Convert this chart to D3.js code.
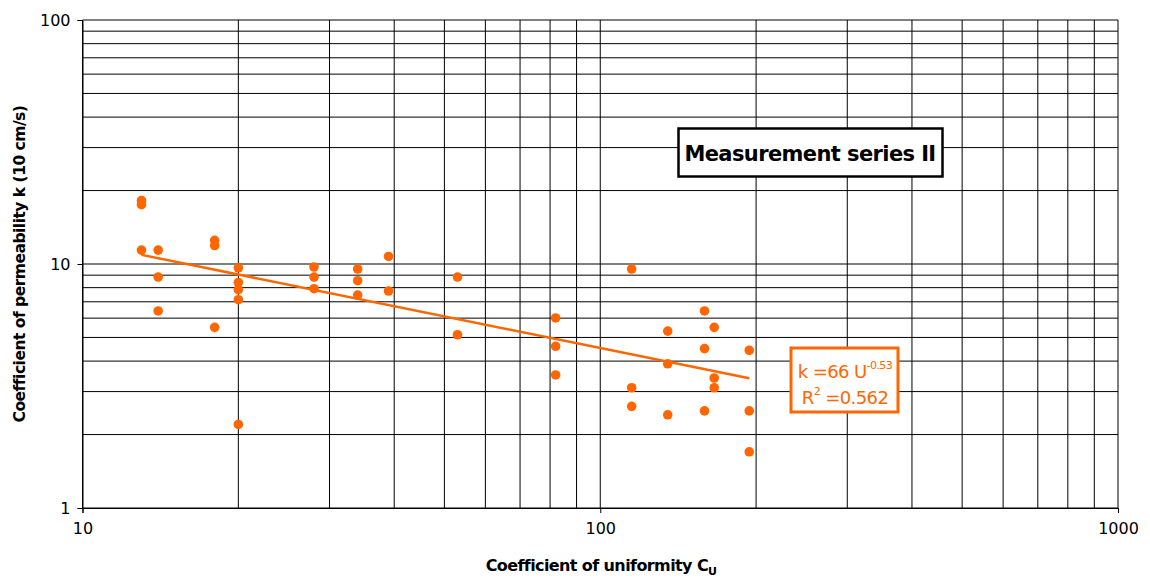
<!DOCTYPE html>
<html>
<head>
<meta charset="utf-8">
<script src="https://cdn.jsdelivr.net/npm/d3@7"></script>
<style>
  body { margin: 0; background: #fff; }
  text { font-family: "DejaVu Sans", sans-serif; }
</style>
</head>
<body>
<svg id="chart" width="1150" height="581"></svg>
<script>
// --- Data ------------------------------------------------
var cu = [13, 13, 13, 14, 14, 14, 18, 18, 18, 20, 20, 20, 20, 20,
          28, 28, 28, 34, 34, 34, 39, 39, 53, 53, 82, 82, 82,
          115, 115, 115, 135, 135, 135, 159, 159, 159, 166, 166, 166,
          194, 194, 194];
var k = [18.2, 17.5, 11.4, 11.4, 8.84, 6.42, 12.5, 11.9, 5.5, 9.65, 8.4, 7.85, 7.14, 2.2,
         9.72, 8.84, 7.92, 9.54, 8.54, 7.46, 10.74, 7.75, 8.84, 5.13, 6.01, 4.6, 3.51,
         9.54, 3.11, 2.61, 5.31, 3.9, 2.41, 6.42, 4.5, 2.5, 5.5, 3.41, 3.11,
         4.43, 2.5, 1.7];
// trend line as drawn (end points)
var trendX = [13, 194];
var trendY = [10.9, 3.4];

var xTicks = [10, 100, 1000];
var yTicks = [1, 10, 100];

// --- Layout ----------------------------------------------
var margin = {top: 20, right: 32, bottom: 73, left: 82.5};
var width = 1150, height = 581;
var orange = "#ff6600";

var svg = d3.select("#chart");

var x = d3.scaleLog().domain([10, 1000]).range([margin.left, width - margin.right]);
var y = d3.scaleLog().domain([1, 100]).range([height - margin.bottom, margin.top]);

// minor + major gridlines, every 1..9 of each decade
function decadeValues(lo, hi) {
  var out = [];
  for (var d = lo; d < hi; d *= 10)
    for (var m = 1; m < 10; m++) out.push(d * m);
  out.push(hi);
  return out;
}

var grid = svg.append("g");
grid.selectAll("line.gx")
  .data(decadeValues(10, 1000))
  .enter().append("line")
  .attr("x1", d => x(d)).attr("x2", d => x(d))
  .attr("y1", y(1)).attr("y2", y(100))
  .attr("stroke", "#000").attr("stroke-width", 1);

grid.selectAll("line.gy")
  .data(decadeValues(1, 100))
  .enter().append("line")
  .attr("y1", d => y(d)).attr("y2", d => y(d))
  .attr("x1", x(10)).attr("x2", x(1000))
  .attr("stroke", "#000").attr("stroke-width", 1);

// axes with major ticks only
var xAxis = d3.axisBottom(x).tickValues(xTicks).tickFormat(d3.format("d")).tickSize(5).tickPadding(10);
var yAxis = d3.axisLeft(y).tickValues(yTicks).tickFormat(d3.format("d")).tickSize(5).tickPadding(7);

var gx = svg.append("g").attr("transform", "translate(0," + y(1) + ")").call(xAxis);
var gy = svg.append("g").attr("transform", "translate(" + x(10) + ",0)").call(yAxis);
[gx, gy].forEach(function(g) {
  g.select(".domain").attr("stroke", "#000");
  g.selectAll(".tick line").attr("stroke", "#000");
  g.selectAll(".tick text")
    .style("font-family", "DejaVu Sans, sans-serif")
    .style("font-size", "16px")
    .attr("fill", "#000");
});
gy.selectAll(".tick text").attr("dy", "0.35em");

// trend line
svg.append("line")
  .attr("x1", x(trendX[0])).attr("y1", y(trendY[0]))
  .attr("x2", x(trendX[1])).attr("y2", y(trendY[1]))
  .attr("stroke", orange).attr("stroke-width", 2.5);

// points
svg.append("g").selectAll("circle")
  .data(cu.map((c, i) => ({cu: c, k: k[i]})))
  .enter().append("circle")
  .attr("cx", d => x(d.cu))
  .attr("cy", d => y(d.k))
  .attr("r", 4.8)
  .attr("fill", orange);

// --- Annotation boxes -----------------------------------
var title = svg.append("g");
title.append("rect")
  .attr("x", 678.5).attr("y", 128.5).attr("width", 264).attr("height", 48)
  .attr("fill", "#fff").attr("stroke", "#000").attr("stroke-width", 2.5);
title.append("text")
  .attr("x", 810).attr("y", 161)
  .attr("text-anchor", "middle")
  .style("font-size", "21px").style("font-weight", "bold")
  .style("letter-spacing", "-0.6px")
  .text("Measurement series II");

var eq = svg.append("g");
eq.append("rect")
  .attr("x", 791).attr("y", 348).attr("width", 107).attr("height", 64)
  .attr("fill", "#fff").attr("stroke", orange).attr("stroke-width", 3);
var t1 = eq.append("text")
  .attr("x", 845).attr("y", 378)
  .attr("text-anchor", "middle").attr("fill", orange)
  .style("font-size", "18px").style("letter-spacing", "-0.6px");
t1.append("tspan").text("k =66 U");
t1.append("tspan").attr("dy", -9).style("font-size", "11px").text("-0.53");
var t2 = eq.append("text")
  .attr("x", 845).attr("y", 404)
  .attr("text-anchor", "middle").attr("fill", orange)
  .style("font-size", "18px").style("letter-spacing", "-0.6px");
t2.append("tspan").text("R");
t2.append("tspan").attr("dy", -9).style("font-size", "11px").text("2");
t2.append("tspan").attr("dy", 9).text(" =0.562");

// --- Axis titles -----------------------------------------
var xt = svg.append("text")
  .attr("x", 601).attr("y", 571)
  .attr("text-anchor", "middle")
  .style("font-size", "16px").style("font-weight", "bold")
  .style("letter-spacing", "-0.6px");
xt.append("tspan").text("Coefficient of uniformity C");
xt.append("tspan").attr("dy", 4).style("font-size", "11px").text("U");

svg.append("text")
  .attr("transform", "translate(25," + y(10) + ") rotate(-90)")
  .attr("text-anchor", "middle")
  .style("font-size", "15.5px").style("font-weight", "bold")
  .style("letter-spacing", "-0.5px")
  .text("Coefficient of permeability k (10 cm/s)");
</script>
</body>
</html>
